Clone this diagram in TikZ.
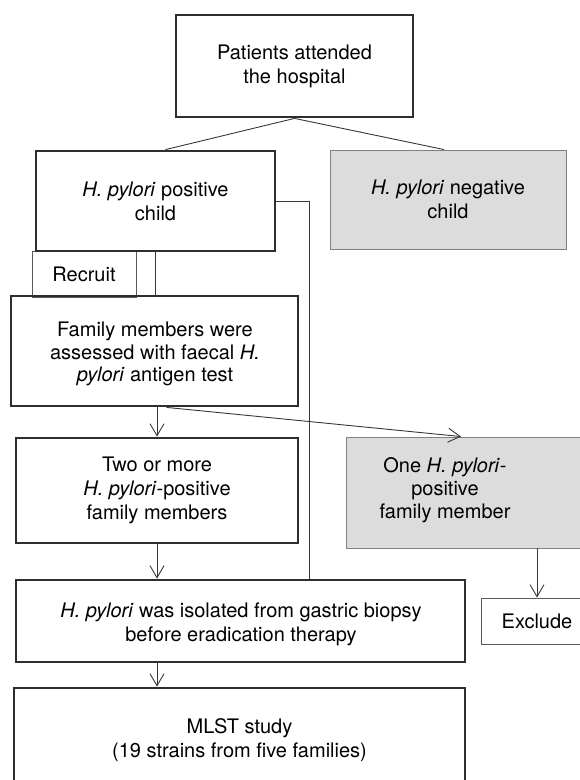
\documentclass[tikz,border=0pt]{standalone}
\usepackage{fontspec}
\setmainfont{TeX Gyre Heros}
\usetikzlibrary{arrows.meta}
\definecolor{boxgrey}{RGB}{220,220,220}
\begin{document}
\begin{tikzpicture}[x=1pt,y=-1pt]
\tikzset{
  boxbase/.style={rectangle, inner sep=0pt, align=center, font=\fontsize{20}{24}\selectfont},
  heavybox/.style={boxbase, draw=black!82, line width=2.8pt},
  greybox/.style={boxbase, draw=black!50, line width=0.9pt, fill=boxgrey},
  thinbox/.style={boxbase, draw=black!65, line width=0.9pt},
  link/.style={draw=black!78, line width=0.9pt},
  arr/.style={link, -{Straight Barb[length=12pt,width=14pt,line width=0.9pt]}}
}
\fill[white] (0,0) rectangle (580,780);
\useasboundingbox (0,0) rectangle (580,780);

\node[thinbox, minimum width=104pt, minimum height=46pt] (recruit) at (84,274) {Recruit};

\node[heavybox, minimum width=237pt, minimum height=102pt] (top) at (294.5,66) {Patients attended\\the hospital};
\node[heavybox, minimum width=239pt, minimum height=100pt] (pos) at (155.5,201) {\textit{H. pylori} positive\\child};
\node[greybox, minimum width=236pt, minimum height=99pt] (neg) at (448,199.5) {\textit{H. pylori} negative\\child};
\node[heavybox, minimum width=287pt, minimum height=110pt] (fam) at (154.5,351) {};
\node[boxbase, font=\fontsize{20}{22.5}\selectfont] (famtext) at (155,354) {Family members were\\assessed with faecal \textit{H.}\\\textit{pylori} antigen test};
\node[heavybox, minimum width=282pt, minimum height=105pt] (two) at (157,490.5) {Two or more\\\textit{H. pylori}-positive\\family members};
\node[greybox, minimum width=254pt, minimum height=111pt] (one) at (473,492.5) {};
\node[boxbase, font=\fontsize{20}{23}\selectfont] (onetext) at (445,490) {One \textit{H. pylori}-\\positive\\family member};
\node[thinbox, minimum width=112pt, minimum height=46pt] (excl) at (537,621) {Exclude};
\node[heavybox, minimum width=449pt, minimum height=82pt] (iso) at (240.5,621) {};
\node[boxbase] (isotext) at (241,624) {\textit{H. pylori} was isolated from gastric biopsy\\before eradication therapy};
\node[heavybox, minimum width=451pt, minimum height=104pt] (mlst) at (239.5,740) {MLST study\\(19 strains from five families)};

\coordinate (side) at (309,0);

% connectors
\draw[link] (top.south) -- ([xshift=10pt]pos.north);
\draw[link] (top.south) -- ([xshift=-4pt]neg.north);
\draw[link] (pos.south) -- (pos.south |- fam.north);
\draw[link] (pos.east) -| (side |- iso.north);
\draw[arr] (fam.south -| two.north) -- (two.north);
\draw[arr] ([xshift=12pt]fam.south) -- ([xshift=-12pt]one.north);
\draw[arr] (two.south) -- (two.south |- iso.north);
\draw[arr] (two.south |- iso.south) -- (two.south |- mlst.north);
\draw[arr] (excl.north |- one.south) -- (excl.north);
\end{tikzpicture}
\end{document}
